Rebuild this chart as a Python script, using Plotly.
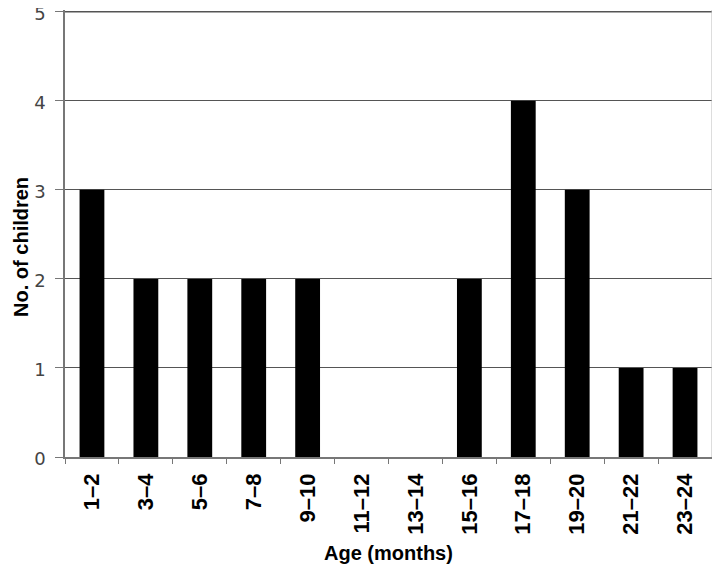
import plotly.graph_objects as go

categories = ["1–2", "3–4", "5–6", "7–8", "9–10", "11–12", "13–14",
              "15–16", "17–18", "19–20", "21–22", "23–24"]
counts = [3, 2, 2, 2, 2, 0, 0, 2, 4, 3, 1, 1]
y_ticks = [0, 1, 2, 3, 4, 5]
y_max = 5

fig = go.Figure(go.Bar(x=categories, y=counts, marker=dict(color="black", line=dict(width=0)),
                       width=0.46))

# page body has an 8px offset, so margins are compensated
fig.update_layout(
    width=720, height=571,
    margin=dict(l=57, r=16, t=2, b=122),
    plot_bgcolor="white", paper_bgcolor="white",
    showlegend=False,
    bargap=0.54,
)
fig.update_xaxes(
    type="category",
    tickangle=-90,
    tickfont=dict(family="Liberation Sans, Arial", size=22, color="black", weight="bold"),
    showline=True, linecolor="#777", linewidth=1.5,
    ticks="outside", ticklen=5, tickcolor="#777", tickson="boundaries",
    ticklabelstandoff=6,
    showgrid=False,
    automargin=False,
)
fig.update_yaxes(
    range=[0, 5.02], tickvals=y_ticks,
    tickfont=dict(family="DejaVu Sans", size=18, color="#444"),
    showline=True, linecolor="#777", linewidth=1.5,
    ticks="outside", ticklen=8, tickcolor="#777",
    ticklabelstandoff=6, ticklabeloverflow="allow", ticklabelshift=2,
    showgrid=True, gridcolor="#555", gridwidth=1.2,
    zeroline=False,
    automargin=False,
)
fig.add_shape(type="line", xref="paper", yref="y", x0=0, x1=1, y0=y_max, y1=y_max,
              line=dict(color="#555", width=1.2), layer="above")
fig.add_annotation(text="<b>Age (months)</b>", xref="paper", yref="paper",
                   x=0.5, y=-96/447, xanchor="center", yanchor="middle", showarrow=False,
                   font=dict(family="Liberation Sans, Arial", size=20, color="black"))
fig.add_annotation(text="<b>No. of children</b>", xref="paper", yref="paper",
                   x=-57/647, y=0.47, xanchor="left", yanchor="middle", showarrow=False,
                   textangle=-90,
                   font=dict(family="Liberation Sans, Arial", size=20, color="black"))
fig.add_shape(type="line", xref="paper", yref="paper", x0=1, x1=1, y0=0, y1=1,
              line=dict(color="#bbb", width=1))

fig.write_html("out.html")
